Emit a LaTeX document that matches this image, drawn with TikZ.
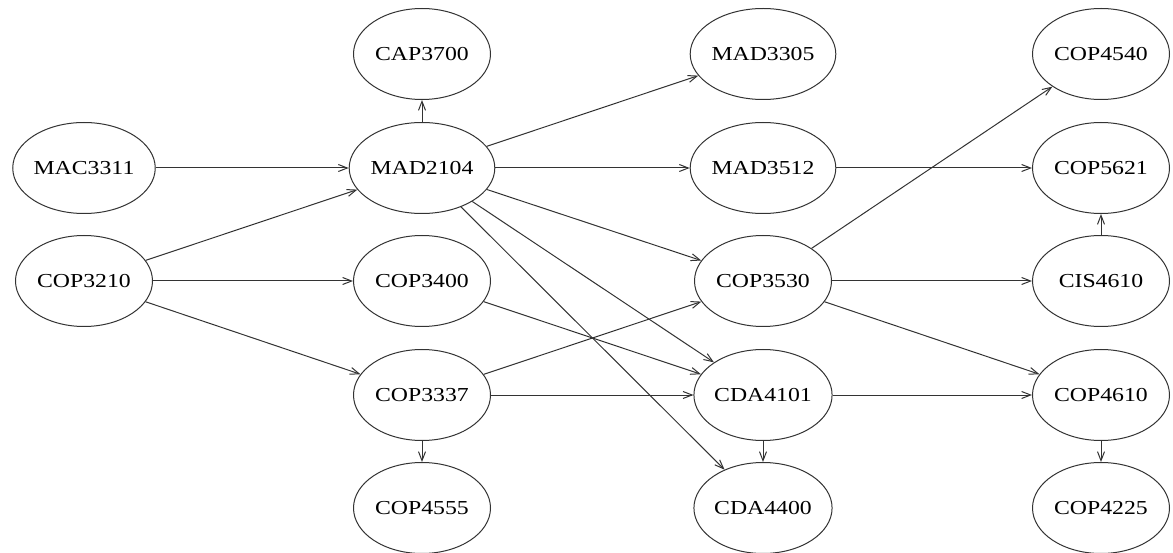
\documentclass[tikz,border=0pt]{standalone}
\usepackage{fontspec}
\setmainfont[FakeStretch=1.2]{Liberation Serif}
\usetikzlibrary{arrows.meta,shapes.geometric}
\definecolor{edgegray}{HTML}{333333}
\begin{document}
\begin{tikzpicture}[x=1pt,y=-1pt,
  course/.style={draw=edgegray,line width=1pt,ellipse,minimum width=137pt,minimum height=91pt,
    inner sep=0pt,font=\fontsize{19.8pt}{20pt}\selectfont,text=black},
  prereq/.style={draw=edgegray,line width=1pt,-{Straight Barb[length=9pt,width=7pt,line width=1pt]}}]
\useasboundingbox (0,0) rectangle (1173,553);
% column positions
\def\ca{84}\def\cb{422}\def\cc{763}\def\cd{1101}
% row positions
\def\ra{54}\def\rb{168}\def\rc{281}\def\rd{395}\def\re{508}
\node[course] (MAC3311) at (\ca,\rb) {MAC3311};
\node[course] (COP3210) at (\ca,\rc) {COP3210};
\node[course] (CAP3700) at (\cb,\ra) {CAP3700};
\node[course] (MAD2104) at (\cb,\rb) {MAD2104};
\node[course] (COP3400) at (\cb,\rc) {COP3400};
\node[course] (COP3337) at (\cb,\rd) {COP3337};
\node[course] (COP4555) at (\cb,\re) {COP4555};
\node[course] (MAD3305) at (\cc,\ra) {MAD3305};
\node[course] (MAD3512) at (\cc,\rb) {MAD3512};
\node[course] (COP3530) at (\cc,\rc) {COP3530};
\node[course] (CDA4101) at (\cc,\rd) {CDA4101};
\node[course] (CDA4400) at (\cc,\re) {CDA4400};
\node[course] (COP4540) at (\cd,\ra) {COP4540};
\node[course] (COP5621) at (\cd,\rb) {COP5621};
\node[course] (CIS4610) at (\cd,\rc) {CIS4610};
\node[course] (COP4610) at (\cd,\rd) {COP4610};
\node[course] (COP4225) at (\cd,\re) {COP4225};
% prerequisite edges
\draw[prereq] (MAD2104) -- (CAP3700);
\draw[prereq] (MAC3311) -- (MAD2104);
\draw[prereq] (COP3210) -- (MAD2104);
\draw[prereq] (COP3210) -- (COP3400);
\draw[prereq] (COP3210) -- (COP3337);
\draw[prereq] (MAD2104) -- (MAD3305);
\draw[prereq] (MAD2104) -- (MAD3512);
\draw[prereq] (MAD2104) -- (COP3530);
\draw[prereq] (MAD2104) -- (CDA4101);
\draw[prereq] (MAD2104) -- (CDA4400);
\draw[prereq] (COP3400) -- (CDA4101);
\draw[prereq] (COP3337) -- (COP3530);
\draw[prereq] (COP3337) -- (CDA4101);
\draw[prereq] (COP3337) -- (COP4555);
\draw[prereq] (CDA4101) -- (CDA4400);
\draw[prereq] (MAD3512) -- (COP5621);
\draw[prereq] (COP3530) -- (COP4540);
\draw[prereq] (COP3530) -- (CIS4610);
\draw[prereq] (COP3530) -- (COP4610);
\draw[prereq] (CIS4610) -- (COP5621);
\draw[prereq] (CDA4101) -- (COP4610);
\draw[prereq] (COP4610) -- (COP4225);
\end{tikzpicture}
\end{document}
